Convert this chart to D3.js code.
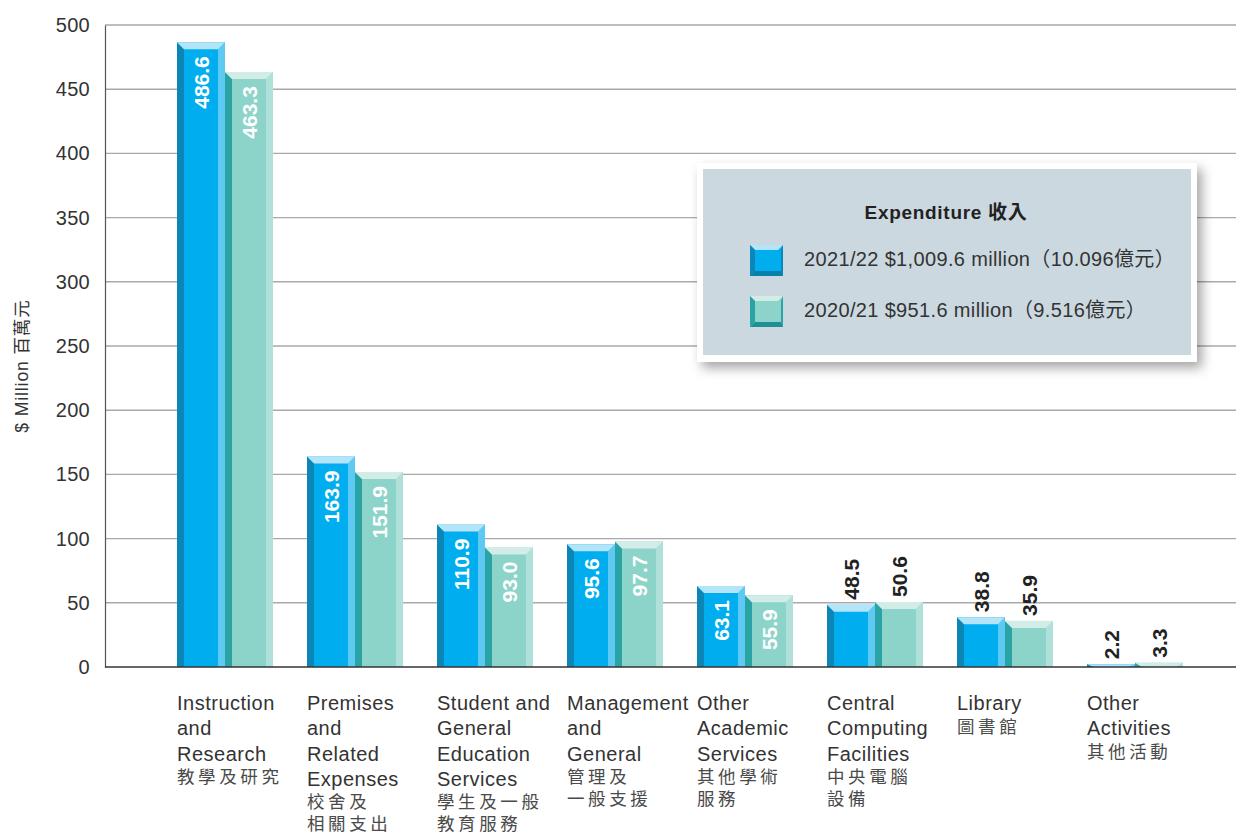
<!DOCTYPE html>
<html><head><meta charset="utf-8">
<script src="https://cdn.jsdelivr.net/npm/d3@7"></script>
<style>
html,body{margin:0;padding:0;background:#fff;}
svg{display:block;font-family:"Liberation Sans",Arial,"Noto Sans CJK TC",sans-serif;}
</style></head>
<body><svg id="chart" width="1236" height="835"></svg>
<script>
const categories = ["Instruction and Research","Premises and Related Expenses","Student and General Education Services","Management and General","Other Academic Services","Central Computing Facilities","Library","Other Activities"];
const categoryLines = [
  ["Instruction","and","Research","教學及研究"],
  ["Premises","and","Related","Expenses","校舍及","相關支出"],
  ["Student and","General","Education","Services","學生及一般","教育服務"],
  ["Management","and","General","管理及","一般支援"],
  ["Other","Academic","Services","其他學術","服務"],
  ["Central","Computing","Facilities","中央電腦","設備"],
  ["Library","圖書館"],
  ["Other","Activities","其他活動"]
];
const seriesNames = ["2021/22","2020/21"];
const values2122 = [486.6,163.9,110.9,95.6,63.1,48.5,38.8,2.2];
const values2021 = [463.3,151.9,93.0,97.7,55.9,50.6,35.9,3.3];
const yTicks = [0,50,100,150,200,250,300,350,400,450,500];
const legendLabels = ["2021/22 $1,009.6 million（10.096億元）","2020/21 $951.6 million（9.516億元）"];
const legendTitle = "Expenditure 收入";
const yTitle = "$ Million 百萬元";

const palettes = [
  {top:"#b4e4f8", left:"#0b86b6", mid:"#00aeef", right:"#5ecaf3", bottom:"#0a7fa8"},
  {top:"#d2ece8", left:"#2aa3a5", mid:"#8cd3ca", right:"#b0e0da", bottom:"#1f8f93"}
];

const svg = d3.select("#chart");
const x0L = 105, x1R = 1236, yTop = 25, yBot = 667;
const y = d3.scaleLinear().domain([0,500]).range([yBot,yTop]);
const x = d3.scaleBand().domain(categories).range([177, 177+130*categories.length]).padding(0);
const xs = d3.scaleBand().domain(seriesNames).range([0,96]).padding(0);

// gridlines
svg.append("g").selectAll("line").data(yTicks.filter(d=>d>0)).join("line")
  .attr("x1",x0L).attr("x2",x1R).attr("y1",d=>y(d)).attr("y2",d=>y(d))
  .attr("stroke","#a9a9a9").attr("stroke-width",1.4);

// y axis
const yAxis = d3.axisLeft(y).tickValues(yTicks).tickSize(0).tickPadding(15);
const gy = svg.append("g").attr("transform",`translate(${x0L},0)`).call(yAxis);
gy.select(".domain").attr("stroke","#555").attr("stroke-width",1.2);
gy.selectAll("text").attr("font-size",20).attr("fill","#333").attr("letter-spacing",0.3).attr("font-family","Liberation Sans, Arial, sans-serif");

svg.append("text").attr("transform",`translate(22,${366}) rotate(-90)`)
  .attr("text-anchor","middle").attr("dominant-baseline","central")
  .attr("font-size",17.5).attr("letter-spacing",0.9).attr("fill","#333").text(yTitle);

// bars
function bevelBar(g, bx0, bx1, by0, by1, pal, b){
  const h = by1-by0;
  const bb = Math.min(b, h);
  g.append("rect").attr("x",bx0).attr("y",by0).attr("width",bx1-bx0).attr("height",h).attr("fill",pal.mid);
  g.append("polygon").attr("points",[[bx0,by0],[bx0+b,by0+bb],[bx0+b,by1],[bx0,by1]].join(" ")).attr("fill",pal.left);
  g.append("polygon").attr("points",[[bx1,by0],[bx1,by1],[bx1-b,by1],[bx1-b,by0+bb]].join(" ")).attr("fill",pal.right);
  g.append("polygon").attr("points",[[bx0,by0],[bx1,by0],[bx1-b,by0+bb],[bx0+b,by0+bb]].join(" ")).attr("fill",pal.top);
}

const seriesVals = [values2122, values2021];
const barG = svg.append("g");
seriesNames.forEach((s,si)=>{
  categories.forEach((c,ci)=>{
    const v = seriesVals[si][ci];
    const bx0 = x(c)+xs(s), bx1 = bx0+xs.bandwidth();
    bevelBar(barG.append("g"), bx0, bx1, y(v), y(0), palettes[si], 7);
  });
});

// bar value labels
const lblG = svg.append("g");
seriesNames.forEach((s,si)=>{
  categories.forEach((c,ci)=>{
    const v = seriesVals[si][ci];
    const cx = x(c)+xs(s)+xs.bandwidth()/2;
    const inside = v > 52;
    const ty = inside ? y(v)+14 : y(v)-5;
    lblG.append("text")
      .attr("transform",`translate(${cx},${ty}) rotate(-90)`)
      .attr("text-anchor", inside ? "end" : "start")
      .attr("dominant-baseline","central")
      .attr("font-size",21).attr("font-weight","bold")
      .attr("fill", inside ? "#fff" : "#222")
      .text(v.toFixed(1));
  });
});

// bottom axis line
svg.append("line").attr("x1",x0L).attr("x2",x1R).attr("y1",yBot).attr("y2",yBot)
  .attr("stroke","#333").attr("stroke-width",1.6);

// category labels
const catG = svg.append("g");
categories.forEach((c,ci)=>{
  const t = catG.append("text").attr("x",x(c)).attr("y",710).attr("fill","#333");
  let yy = 710, prevCjk = null;
  categoryLines[ci].forEach((ln,li)=>{
    const cjk = /[\u4e00-\u9fff]/.test(ln);
    if (li > 0) yy += cjk ? (prevCjk ? 22 : 22.5) : 25.3;
    prevCjk = cjk;
    t.append("tspan").attr("x",x(c)).attr("y",yy)
      .attr("font-size", cjk ? 17.5 : 20)
      .attr("fill", cjk ? "#4a4a4a" : "#333")
      .attr("letter-spacing", cjk ? 3.6 : 0.5)
      .text(ln);
  });
});

// legend
const defs = svg.append("defs");
const f = defs.append("filter").attr("id","shadow").attr("x","-10%").attr("y","-10%").attr("width","130%").attr("height","140%");
f.append("feDropShadow").attr("dx",5).attr("dy",6).attr("stdDeviation",6).attr("flood-color","#000").attr("flood-opacity",0.35);

const lg = svg.append("g");
lg.append("rect").attr("x",697).attr("y",163).attr("width",500).attr("height",199).attr("fill","#fff").attr("filter","url(#shadow)");
lg.append("rect").attr("x",703).attr("y",169).attr("width",488).attr("height",186).attr("fill","#cbd8e0");
lg.append("text").attr("x",946).attr("y",219).attr("text-anchor","middle").attr("font-size",19).attr("letter-spacing",0.7).attr("font-weight","bold").attr("fill","#222").text(legendTitle);

seriesNames.forEach((s,si)=>{
  const sy = 245 + si*51;
  const g = lg.append("g");
  const pal = palettes[si];
  const sx0 = 750, sx1 = 783, sy0 = sy, sy1 = sy+31, b = 5;
  g.append("rect").attr("x",sx0).attr("y",sy0).attr("width",sx1-sx0).attr("height",sy1-sy0).attr("fill",pal.mid);
  g.append("polygon").attr("points",[[sx0,sy0],[sx1,sy0],[sx1-b,sy0+b],[sx0+b,sy0+b]].join(" ")).attr("fill",pal.top);
  g.append("polygon").attr("points",[[sx0,sy0],[sx0+b,sy0+b],[sx0+b,sy1-b],[sx0,sy1]].join(" ")).attr("fill",pal.left);
  g.append("polygon").attr("points",[[sx0,sy1],[sx0+b,sy1-b],[sx1-2,sy1-b],[sx1,sy1]].join(" ")).attr("fill",pal.bottom);
  g.append("polygon").attr("points",[[sx1,sy0],[sx1,sy1],[sx1-2,sy1-b],[sx1-2,sy0+b]].join(" ")).attr("fill",pal.left);
  lg.append("text").attr("x",804).attr("y",sy+21).attr("font-size",20).attr("letter-spacing",0.35).attr("fill","#333").text(legendLabels[si]);
});
</script>
</body></html>
